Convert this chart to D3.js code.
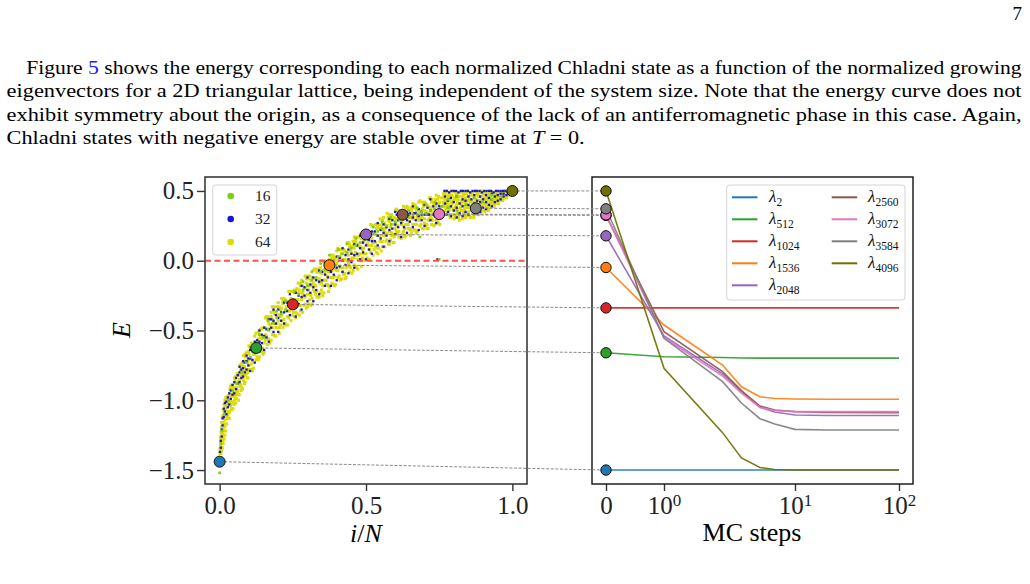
<!DOCTYPE html>
<html>
<head>
<meta charset="utf-8">
<script src="https://cdn.jsdelivr.net/npm/d3@7"></script>
<style>
  body { margin: 0; background: #fff; }
  svg { display: block; }
  text { font-family: "Liberation Serif", "DejaVu Serif", serif; white-space: pre; }
</style>
</head>
<body>
<div id="page"></div>
<script>
// ---- text of the page ----
var paragraph = [
  [["Figure ", ""], ["5", "link"], [" shows the energy corresponding to each normalized Chladni state as a function of the normalized growing", ""]],
  [["eigenvectors for a 2D triangular lattice, being independent of the system size. Note that the energy curve does not", ""]],
  [["exhibit symmetry about the origin, as a consequence of the lack of an antiferromagnetic phase in this case. Again,", ""]],
  [["Chladni states with negative energy are stable over time at ", ""], ["T", "math"], [" = 0.", ""]]
];
var pageNumber = "7";

// ---- left panel: E vs i/N for three lattice sizes ----
var sizeLabels = ["16", "32", "64"];
var energyTicks = [0.5, 0.0, -0.5, -1.0, -1.5];
var iNTicks = [0.0, 0.5, 1.0];

// columns: [i/N in 1/1000, [E in 1/100, ...]]
var size64 = [
  [1,[-143,-141,-138,-135]],[3,[-141,-137,-133,-130,-127]],[5,[-138,-134,-130,-126,-123]],
  [7,[-136,-131,-127,-123,-119,-116]],[9,[-134,-129,-124,-120,-116,-112]],[12,[-131,-126,-121,-116,-111,-107]],
  [15,[-128,-122,-117,-112,-107,-103]],[18,[-125,-119,-114,-109,-104,-100]],[21,[-122,-117,-111,-106,-101,-98]],
  [24,[-117,-110,-103,-99]],[28,[-111,-108,-103,-97]],[33,[-113,-109,-101,-96]],[37,[-104,-100,-96,-90]],
  [42,[-106,-102,-91,-89]],[46,[-106,-97,-94,-91]],[51,[-100,-96,-91,-84]],[55,[-102,-94,-88,-83]],
  [60,[-96,-94,-88,-81]],[64,[-100,-96,-87,-82]],[69,[-90,-86,-82,-75]],[73,[-93,-89,-77,-74]],
  [78,[-92,-82,-79,-75]],[82,[-86,-82,-76,-68]],[87,[-87,-79,-72,-67]],[91,[-81,-78,-72,-66]],
  [96,[-84,-80,-72,-66]],[100,[-75,-71,-67,-61]],[108,[-78,-74,-62,-59]],[116,[-77,-67,-64,-60]],
  [124,[-71,-66,-60,-52]],[132,[-71,-63,-56,-51]],[140,[-64,-61,-55,-49]],[148,[-67,-63,-54,-48]],
  [156,[-57,-53,-48,-41]],[164,[-60,-56,-42,-40]],[172,[-59,-49,-46,-41]],[180,[-53,-48,-42,-33]],
  [188,[-54,-45,-38,-33]],[196,[-48,-45,-39,-33]],[204,[-52,-48,-39,-33]],[212,[-43,-39,-34,-27]],
  [220,[-46,-42,-29,-27]],[228,[-46,-36,-33,-29]],[236,[-41,-36,-30,-22]],[244,[-43,-34,-27,-22]],
  [252,[-37,-34,-28,-22]],[260,[-41,-37,-28,-22]],[268,[-32,-28,-23,-16]],[276,[-36,-32,-18,-16]],
  [284,[-37,-26,-23,-18]],[292,[-31,-26,-20,-11]],[300,[-33,-24,-17,-11]],[308,[-28,-24,-18,-11]],
  [316,[-31,-27,-18,-12]],[324,[-22,-18,-13,-6]],[332,[-26,-22,-8,-6]],[340,[-26,-16,-13,-8]],
  [348,[-21,-16,-9,0]],[356,[-23,-14,-7,-1]],[364,[-17,-14,-7,-1]],[372,[-22,-18,-8,-2]],
  [380,[-12,-8,-3,4]],[388,[-17,-12,2,4]],[396,[-17,-6,-3,2]],[404,[-12,-7,0,9]],
  [412,[-14,-5,3,8]],[420,[-8,-5,1,8]],[428,[-13,-9,1,7]],[436,[-4,0,5,13]],
  [444,[-8,-4,10,12]],[452,[-9,2,5,10]],[460,[-3,2,9,17]],[468,[-5,4,11,17]],
  [476,[1,4,10,17]],[484,[-4,0,9,16]],[492,[5,9,14,21]],[500,[1,5,19,21]],
  [508,[1,11,14,18]],[516,[6,11,17,26]],[524,[4,13,20,25]],[532,[10,13,19,26]],
  [540,[5,9,18,24]],[548,[14,18,23,30]],[556,[10,14,27,29]],[564,[10,20,23,27]],
  [572,[15,19,25,34]],[580,[12,21,28,33]],[588,[18,20,26,33]],[596,[13,17,26,31]],
  [604,[21,25,30,37]],[612,[17,21,34,36]],[620,[16,26,29,33]],[628,[21,25,31,39]],
  [636,[18,26,33,38]],[644,[23,26,32,38]],[652,[18,22,31,36]],[660,[26,30,34,41]],
  [668,[22,26,38,40]],[676,[21,31,33,37]],[684,[25,30,36,43]],[692,[23,31,37,42]],
  [700,[27,30,36,42]],[708,[23,26,35,40]],[716,[30,34,38,45]],[724,[26,30,42,44]],
  [732,[25,35,37,41]],[740,[29,34,39,47]],[748,[27,34,41,46]],[756,[31,34,39,45]],
  [764,[39,42,45,48]],[770,[36,39,44,47,50]],[777,[39,41,44,50]],[784,[33,36,47,48]],
  [791,[31,39,42,46]],[798,[33,37,43,50]],[805,[31,38,44,49]],[812,[34,37,42,48]],
  [819,[29,33,41,46]],[826,[36,40,43,50]],[833,[32,35,47,48]],[840,[31,39,42,45]],
  [847,[34,38,43,50]],[854,[32,39,44,49]],[861,[36,38,43,48]],[868,[31,35,42,46]],
  [875,[38,41,44,50]],[882,[34,37,47,48]],[889,[34,41,43,46]],[896,[37,40,44,50]],
  [903,[36,41,45,49]],[910,[39,41,44,48]],[917,[36,38,44,47]],[924,[41,43,46,50]],
  [931,[39,41,48,49]],[938,[39,44,45,47]],[945,[42,44,46,50]],[952,[41,44,47,49]],
  [959,[44,45,47,49]],[966,[43,44,47,48]],[973,[46,47,48,50]],[980,[45,47,49]],
  [987,[47,49]],[994,[48,50]],
  // in-between columns
  [26,[-113,-101]],[31,[-108,-97]],[35,[-104,-92]],[40,[-107,-97]],[44,[-101,-90]],
  [49,[-103,-95]],[53,[-98,-86]],[58,[-99,-91]],[62,[-93,-81]],[67,[-96,-85]],
  [71,[-89,-79]],[76,[-91,-81]],[80,[-84,-73]],[85,[-88,-76]],[89,[-82,-69]],
  [94,[-84,-73]],[98,[-78,-65]],
  [104,[-78,-70,-62]],[112,[-79,-72,-62]],[120,[-67,-63,-54]],[128,[-69,-63,-58]],
  [136,[-69,-53,-50]],[144,[-65,-56,-49]],[152,[-66,-59,-48]],[160,[-54,-49,-40]],
  [168,[-56,-50,-45]],[176,[-57,-40,-37]],[184,[-53,-44,-36]],[192,[-54,-48,-37]],
  [200,[-43,-39,-30]],[208,[-46,-40,-35]],[216,[-48,-31,-29]],[224,[-45,-36,-28]],
  [232,[-46,-40,-29]],[240,[-36,-31,-22]],[248,[-39,-33,-28]],[256,[-40,-23,-21]],
  [264,[-38,-28,-20]],[272,[-39,-32,-21]],[280,[-28,-23,-14]],[288,[-32,-25,-20]],
  [296,[-34,-16,-13]],[304,[-31,-21,-13]],[312,[-32,-25,-14]],[320,[-21,-16,-7]],
  [328,[-24,-18,-13]],[336,[-26,-8,-6]],[344,[-23,-14,-5]],[352,[-25,-18,-7]],
  [360,[-14,-9,0]],[368,[-17,-11,-6]],[376,[-19,-1,1]],[384,[-16,-7,2]],
  [392,[-18,-11,0]],[400,[-7,-2,7]],[408,[-11,-4,1]],[416,[-13,5,8]],
  [424,[-10,0,8]],[432,[-12,-5,6]],[440,[-2,4,13]],[448,[-5,1,7]],
  [456,[-7,11,14]],[464,[-4,6,14]],[472,[-6,1,12]],[480,[5,10,19]],
  [488,[2,8,13]],[496,[0,17,20]],[504,[2,12,20]],[512,[1,8,19]],
  [520,[11,16,25]],[528,[8,14,20]],[536,[6,23,26]],[544,[9,18,26]],
  [552,[7,14,25]],[560,[18,22,31]],[568,[14,20,25]],[576,[12,29,31]],
  [584,[15,24,31]],[592,[13,19,30]],[600,[23,27,36]],[608,[19,25,30]],
  [616,[17,33,35]],[624,[19,28,35]],[632,[17,23,33]],[640,[26,31,39]],
  [648,[23,28,33]],[656,[20,36,38]],[664,[22,31,38]],[672,[20,26,36]],
  [680,[29,34,42]],[688,[26,31,36]],[696,[23,39,41]],[704,[25,34,41]],
  [712,[23,29,39]],[720,[32,37,45]],[728,[29,34,39]],[736,[26,42,44]],
  [744,[28,36,44]],[752,[26,32,42]],
  [767,[41,47]],[773,[37,43,49]],[780,[34,40,46]],[787,[31,38,44,49]],[794,[33,41,47]],
  [801,[30,36,45]],[808,[32,40,47]],[815,[31,35,44]],[822,[33,38,49]],[829,[30,42,46]],
  [836,[34,37,44]],[843,[32,41,48]],[850,[35,39,46]],[857,[31,42,47]],[864,[34,40,49]],
  [871,[33,37,45]],[878,[36,43,48]],[885,[33,39,46]],[892,[35,42,49]],[899,[37,40,47]],
  [906,[35,44,48]],[913,[38,42,46]],[920,[37,40,48]],[927,[39,45,49]],[934,[40,43,48]],
  [941,[41,46,49]],[948,[42,45,48]],[955,[43,47]],[962,[45,48]],[969,[44,47,49]],
  [976,[46,49]],[983,[47,48]],[990,[48,50]],[997,[49,50]]
];

var size32 = [
  [1,[-142,-137]],[4,[-134,-129]],[7,[-126,-121]],[10,[-118,-113]],[14,[-112,-106]],
  [18,[-108,-102]],[23,[-110,-101]],[28,[-105,-98]],[33,[-103,-95]],[38,[-99,-93]],
  [44,[-96,-89]],[50,[-95,-87]],[56,[-92,-84]],[62,[-88,-82]],[68,[-87,-80,-76]],
  [74,[-84,-78]],[80,[-83,-77,-72]],[86,[-80,-73]],[92,[-78,-72,-68]],[98,[-75,-70]],
  [104,[-79,-70,-64]],[112,[-71,-65]],[120,[-73,-65,-58]],[128,[-63,-57]],[136,[-65,-58,-50]],
  [144,[-59,-53]],[152,[-64,-54,-48]],[160,[-55,-49]],[168,[-58,-49,-42]],[176,[-48,-42]],
  [184,[-51,-43,-35]],[192,[-45,-39]],[200,[-51,-41,-35]],[210,[-43,-37]],[220,[-45,-37,-30]],
  [230,[-36,-30]],[240,[-39,-32,-24]],[250,[-34,-28]],[260,[-40,-30,-23]],[270,[-31,-25]],
  [280,[-35,-26,-18]],[290,[-25,-19]],[300,[-29,-21,-12]],[310,[-23,-17]],[320,[-29,-19,-12]],
  [330,[-21,-14]],[340,[-24,-15,-7]],[350,[-14,-8]],[360,[-18,-10,-1]],[370,[-12,-6]],
  [380,[-18,-8,-2]],[390,[-10,-4]],[400,[-14,-5,3]],[410,[-4,2]],[420,[-8,0,9]],
  [430,[-3,4]],[440,[-9,1,8]],[450,[-1,5]],[460,[-5,4,12]],[470,[5,11]],
  [480,[1,9,18]],[490,[6,13]],[500,[1,11,17]],[510,[8,15]],[520,[5,14,21]],
  [530,[14,21]],[540,[11,18,27]],[550,[16,22]],[560,[10,20,26]],[570,[18,24]],
  [580,[14,22,30]],[590,[23,29]],[600,[19,26,35]],[605,[33]],[610,[24,29]],[620,[17,27,33]],
  [625,[32]],[630,[24,30]],[640,[20,29,35]],[645,[33]],[650,[28,34]],[660,[24,31,39]],
  [665,[34]],[670,[29,34]],[680,[22,32,37]],[690,[29,33,35]],[700,[25,33,40]],
  [710,[33,38]],[715,[33]],[720,[29,36,44]],[730,[33,39]],[735,[32]],[740,[27,36,41]],
  [744,[1]],[750,[33,39]],[760,[33]],[775,[33]],
  [768,[50]],[776,[50]],[784,[49]],[792,[50]],[800,[50]],[808,[50]],[816,[49]],[824,[50]],
  [832,[50]],[840,[50]],[848,[50]],[856,[49]],[864,[50]],[872,[50]],[880,[50]],[888,[50]],
  [896,[49]],[904,[50]],[912,[50]],[920,[50]],[928,[50]],[936,[49]],[944,[50]],[952,[50]],
  [960,[50]],[968,[50]],[976,[50]],[984,[49]],[992,[50]],[998,[50]],
  [770,[41,46]],[780,[35,43]],[790,[32,39,45]],[800,[36,42]],[810,[31,38,46]],
  [820,[34,41]],[830,[32,39,44]],[840,[35,43]],[850,[33,40,46]],[860,[37,44]],
  [870,[34,41,47]],[880,[36,43]],[890,[35,42,46]],[900,[38,44]],[910,[37,42,47]],
  [920,[40,45]],[930,[39,44,48]],[940,[42,46]],[950,[43,47]],[960,[44,48]],
  [970,[46,48]],[980,[47]],[990,[48]]
];

var size16 = [
  [0,[-152]],[4,[-131]],[8,[-122]],[15,[-110]],[30,[-100]],[45,[-93]],[60,[-88]],
  [75,[-80]],[90,[-73]],[105,[-69,-62]],[120,[-66]],[135,[-60,-53]],[150,[-55]],
  [165,[-49,-43]],[180,[-45]],[195,[-41,-36]],[210,[-38]],[225,[-35,-29]],[240,[-31]],
  [255,[-28,-22]],[270,[-24]],[285,[-21,-15]],[300,[-18]],[315,[-14,-8]],[330,[-12]],
  [345,[-8,-2]],[360,[-6]],[375,[-2,4]],[390,[0]],[405,[3,8]],[420,[5]],[435,[6,12]],
  [450,[9]],[465,[11,16]],[480,[13]],[495,[15,20]],[510,[18]],[525,[19,24]],[540,[21]],
  [555,[23,28]],[570,[25]],[585,[26,31]],[600,[28]],[615,[29,34]],[630,[30]],[645,[31,36]],
  [660,[33]],[675,[33,38]],[684,[17]],[690,[35]],[705,[34,40]],[720,[36]],[735,[37,42]],
  [750,[1]],[760,[39]],[780,[38,44]],[810,[36,46]],[840,[40]],[870,[38,45]],[900,[42]],
  [930,[44,47]],[960,[46]],[990,[49]]
];

// highlighted Chladni states
var stateIndex = [2, 512, 1024, 1536, 2048, 2560, 3072, 3584, 4096];
var stateIN = [0.0, 0.125, 0.25, 0.375, 0.5, 0.625, 0.75, 0.875, 1.0];
var stateE = [-1.44, -0.625, -0.313, -0.032, 0.188, 0.33, 0.334, 0.376, 0.5];

// ---- right panel: relaxation of each state ----
var mcSteps = [0, 1, 2.8, 3.9, 5.4, 7, 10, 20, 100];
var relax2    = [-1.44, -1.44, -1.44, -1.44, -1.44, -1.44, -1.44, -1.44, -1.44];
var relax512  = [-0.625, -0.652, -0.658, -0.661, -0.662, -0.662, -0.662, -0.662, -0.662];
var relax1024 = [-0.313, -0.313, -0.313, -0.313, -0.313, -0.313, -0.313, -0.313, -0.313];
var relax1536 = [-0.032, -0.432, -0.710, -0.861, -0.930, -0.943, -0.946, -0.948, -0.948];
var relax2048 = [0.188, -0.508, -0.772, -0.894, -1.004, -1.036, -1.057, -1.061, -1.061];
var relax2560 = [0.33, -0.478, -0.756, -0.888, -0.995, -1.023, -1.034, -1.040, -1.041];
var relax3072 = [0.334, -0.520, -0.786, -0.905, -1.005, -1.026, -1.034, -1.034, -1.034];
var relax3584 = [0.376, -0.524, -0.826, -0.974, -1.083, -1.120, -1.157, -1.162, -1.162];
var relax4096 = [0.5, -0.733, -1.180, -1.356, -1.422, -1.436, -1.440, -1.440, -1.440];
var mcTicks = [0, 1, 10, 100];
var mcTickBase = ["0", "10", "10", "10"];
var mcTickExp = ["", "0", "1", "2"];

// ---- styling ----
var stateColors = ["#1f77b4", "#2ca02c", "#d62728", "#ff7f0e", "#9467bd", "#8c564b", "#e377c2", "#7f7f7f", "#707000"];
var sizeColors = ["#7ccd1c", "#1717d2", "#dcdc00"];
var sizeMarker = [2.6, 2.3, 3.0];
var serif = "'Liberation Serif', 'DejaVu Serif', serif";

var svgWidth = 1030, svgHeight = 584;
var svg = d3.select("#page").append("svg")
  .attr("width", svgWidth)
  .attr("height", svgHeight);
svg.append("rect").attr("width", svgWidth).attr("height", svgHeight).attr("fill", "#fff");

// paragraph lines, justified like the LaTeX page
var lineX = [26.3, 6.6, 6.6, 6.6];
var lineBase = [74, 97.3, 120.7, 144];
var lineRight = [1021.6, 1021.6, 1021.6, 584.7];
paragraph.forEach(function(segs, i) {
  var t = svg.append("text")
    .attr("x", lineX[i]).attr("y", lineBase[i])
    .attr("font-family", serif)
    .attr("font-size", 19)
    .attr("textLength", lineRight[i] - lineX[i])
    .attr("lengthAdjust", "spacingAndGlyphs");
  segs.forEach(function(s) {
    t.append("tspan")
      .text(s[0])
      .attr("fill", s[1] == "link" ? "#2020ff" : "#000")
      .attr("font-style", s[1] == "math" ? "italic" : null);
  });
});
svg.append("text").attr("x", 1022).attr("y", 20).attr("text-anchor", "end")
  .attr("font-family", serif).attr("font-size", 19).text(pageNumber);

// ---------- left panel ----------
var left = {x0: 205, x1: 527, y0: 177, y1: 484};
var xL = d3.scaleLinear().domain([-0.05, 1.05]).range([left.x0, left.x1]);
var yL = d3.scaleLinear().domain([-1.6, 0.6]).range([left.y1, left.y0]);

// right panel scales
var right = {x0: 592, x1: 913, y0: 177, y1: 484};
var mcU = function(t) { return t <= 1 ? t : 1 + Math.log10(t); };
var xRu = d3.scaleLinear().domain([0, 1, 2, 3]).range([606, 664, 795, 899]);
var xR = function(t) { return xRu(mcU(t)); };
var relaxAll = [relax2, relax512, relax1024, relax1536, relax2048, relax2560, relax3072, relax3584, relax4096];
var eExt = d3.extent(d3.merge(relaxAll));
var ePad = (eExt[1] - eExt[0]) * 0.05;
var yR = d3.scaleLinear().domain([eExt[0] - ePad, eExt[1] + ePad]).range([right.y1, right.y0]);

var leftG = svg.append("g");

// scatter, 64 first so the smaller lattices stay visible
var sizeData = [size16, size32, size64];
[2, 1, 0].forEach(function(k) {
  var pts = d3.merge(sizeData[k].map(function(c) {
    return c[1].map(function(e) { return [c[0] / 1000, e / 100]; });
  }));
  var s = sizeMarker[k];
  leftG.append("g").selectAll("rect")
    .data(pts)
    .enter()
    .append("rect")
    .attr("x", d => xL(d[0]) - s / 2)
    .attr("y", d => yL(d[1]) - s / 2)
    .attr("width", s)
    .attr("height", s)
    .attr("fill", sizeColors[k]);
});

// zero energy line
leftG.append("line")
  .attr("x1", left.x0).attr("x2", left.x1)
  .attr("y1", yL(0)).attr("y2", yL(0))
  .attr("stroke", "#ff4f4f").attr("stroke-width", 2)
  .attr("stroke-dasharray", "6,3.5");

// axes left
var yAxisL = d3.axisLeft(yL).tickValues(energyTicks).tickFormat(d3.format(".1f")).tickSize(8).tickPadding(3);
var xAxisL = d3.axisBottom(xL).tickValues(iNTicks).tickFormat(d3.format(".1f")).tickSize(7).tickPadding(5);
var gy = leftG.append("g").attr("transform", `translate(${left.x0},0)`).call(yAxisL);
var gx = leftG.append("g").attr("transform", `translate(0,${left.y1})`).call(xAxisL);

// right panel axis
var xAxisR = d3.axisBottom(xRu).tickValues(mcTicks.map(mcU)).tickFormat("").tickSize(7).tickPadding(5);
var gxr = svg.append("g").attr("transform", `translate(0,${right.y1})`).call(xAxisR);
gxr.selectAll(".tick text").each(function(d, i) {
  var t = d3.select(this);
  t.append("tspan").text(mcTickBase[i]);
  if (mcTickExp[i]) t.append("tspan").attr("dy", "-0.45em").attr("font-size", 17).text(mcTickExp[i]);
});

[gy, gx, gxr].forEach(function(g) {
  g.select(".domain").remove();
  g.selectAll(".tick line").attr("stroke", "#333").attr("stroke-width", 1.4);
  g.selectAll(".tick text").attr("font-size", 25).attr("fill", "#222")
    .attr("font-family", serif);
});

// frames
leftG.append("rect")
  .attr("x", left.x0).attr("y", left.y0)
  .attr("width", left.x1 - left.x0).attr("height", left.y1 - left.y0)
  .attr("fill", "none").attr("stroke", "#3a3a3a").attr("stroke-width", 1.6);
svg.append("rect")
  .attr("x", right.x0).attr("y", right.y0)
  .attr("width", right.x1 - right.x0).attr("height", right.y1 - right.y0)
  .attr("fill", "none").attr("stroke", "#111").attr("stroke-width", 1.4);

// axis labels
svg.append("text")
  .attr("transform", "translate(130,330) rotate(-90)")
  .attr("text-anchor", "middle")
  .attr("font-family", serif)
  .attr("font-size", 26).attr("font-style", "italic")
  .text("E");
var iN = svg.append("text").attr("x", 366).attr("y", 542).attr("text-anchor", "middle")
  .attr("font-family", serif).attr("font-size", 26);
iN.append("tspan").attr("font-style", "italic").text("i");
iN.append("tspan").text("/");
iN.append("tspan").attr("font-style", "italic").text("N");
svg.append("text").attr("x", 752).attr("y", 541).attr("text-anchor", "middle")
  .attr("font-family", serif).attr("font-size", 26).text("MC steps");

// relaxation curves
var line = d3.line()
  .x(d => xR(d[0]))
  .y(d => yR(d[1]));
relaxAll.forEach(function(vals, i) {
  svg.append("path")
    .datum(mcSteps.map((t, j) => [t, vals[j]]))
    .attr("d", line)
    .attr("fill", "none")
    .attr("stroke", stateColors[i])
    .attr("stroke-width", 1.6)
    .attr("opacity", 0.92);
});

// dashed connectors from each state to its starting point
svg.append("g").selectAll("line")
  .data(stateE)
  .enter()
  .append("line")
  .attr("x1", (d, i) => xL(stateIN[i]))
  .attr("y1", d => yL(d))
  .attr("x2", xR(0))
  .attr("y2", (d, i) => yR(relaxAll[i][0]))
  .attr("stroke", "#8a8a8a")
  .attr("stroke-width", 1)
  .attr("stroke-dasharray", "3,1.6");

// highlighted states on both panels
svg.append("g").selectAll("circle")
  .data(stateE)
  .enter()
  .append("circle")
  .attr("cx", (d, i) => xL(stateIN[i]))
  .attr("cy", d => yL(d))
  .attr("r", 5.5)
  .attr("fill", (d, i) => stateColors[i])
  .attr("stroke", "#111")
  .attr("stroke-width", 1);
svg.append("g").selectAll("circle")
  .data(relaxAll)
  .enter()
  .append("circle")
  .attr("cx", xR(0))
  .attr("cy", d => yR(d[0]))
  .attr("r", 5.2)
  .attr("fill", (d, i) => stateColors[i])
  .attr("stroke", "#111")
  .attr("stroke-width", 1);

// legend, left panel
svg.append("rect")
  .attr("x", 212.7).attr("y", 185).attr("width", 64).attr("height", 70)
  .attr("rx", 3).attr("fill", "#fff").attr("fill-opacity", 0.85)
  .attr("stroke", "#d4d4d4");
sizeLabels.forEach(function(lab, i) {
  var yy = 196 + i * 23;
  svg.append("circle").attr("cx", 230.7).attr("cy", yy).attr("r", 3.3).attr("fill", sizeColors[i]);
  svg.append("text").attr("x", 255).attr("y", yy + 5).attr("font-family", serif)
    .attr("font-size", 15.5).attr("fill", "#222").text(lab);
});

// legend, right panel (two columns)
svg.append("rect")
  .attr("x", 726.7).attr("y", 185).attr("width", 178.3).attr("height", 115)
  .attr("rx", 3).attr("fill", "#fff").attr("fill-opacity", 0.85)
  .attr("stroke", "#d4d4d4");
stateIndex.forEach(function(n, i) {
  var col = i < 5 ? 0 : 1;
  var row = i < 5 ? i : i - 5;
  var lx = col == 0 ? 732 : 831.7;
  var tx = col == 0 ? 769 : 868;
  var yy = 197.3 + row * 22;
  svg.append("line").attr("x1", lx).attr("x2", lx + 25.5).attr("y1", yy).attr("y2", yy)
    .attr("stroke", stateColors[i]).attr("stroke-width", 2);
  var t = svg.append("text").attr("x", tx).attr("y", yy + 5).attr("font-family", serif).attr("fill", "#111");
  t.append("tspan").attr("font-size", 17).attr("font-style", "italic").text("λ");
  t.append("tspan").attr("font-size", 11.5).attr("dy", 4).text(n);
});
</script>
</body>
</html>
